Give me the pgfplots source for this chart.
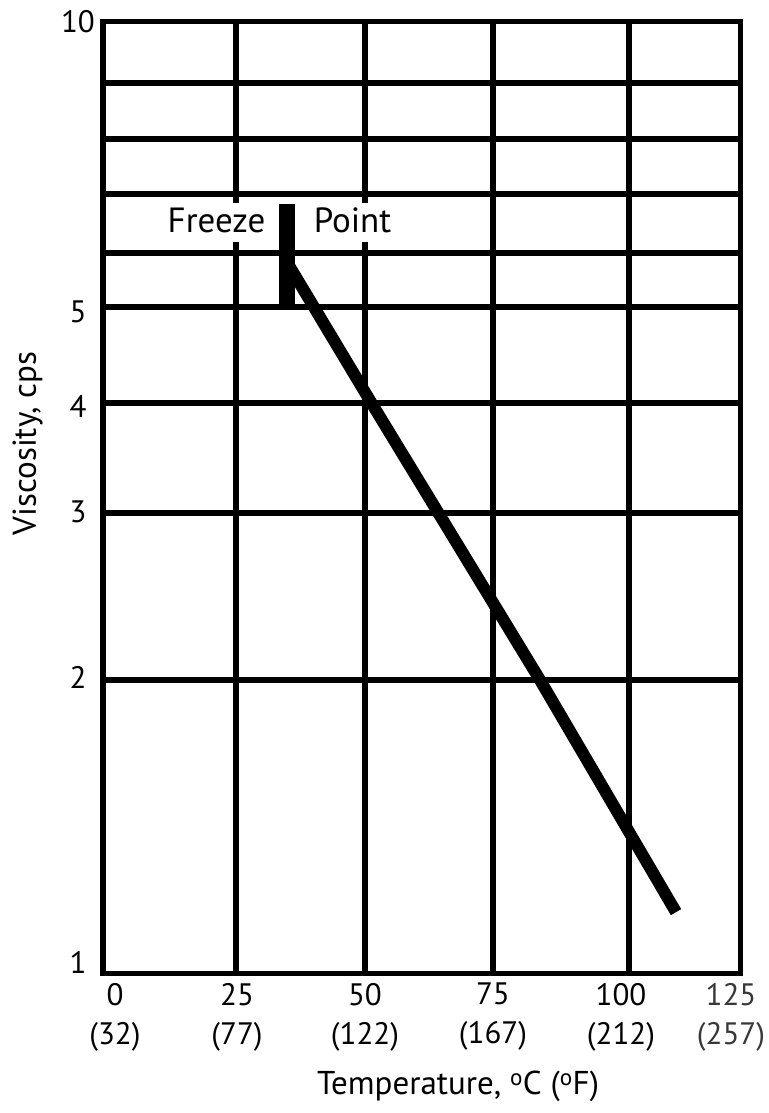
\documentclass[border=0pt]{standalone}
\usepackage{fontspec}
\setmainfont{PT Sans}
\usepackage{pgfplots}
\pgfplotsset{compat=1.18}
\begin{document}
\begin{tikzpicture}
\path[use as bounding box] (0,0) rectangle (769bp,1113bp);
\begin{axis}[
  at={(103bp,139.5bp)}, anchor=south west,
  scale only axis, width=637.5bp, height=952bp,
  xmin=0, xmax=121.2, ymode=log, ymin=1, ymax=10,
  axis line style={line width=5.5bp, line join=miter},
  major tick length=0pt, minor tick length=0pt,
  yminorticks=false, xminorticks=false,
  /pgf/number format/assume math mode=true,
  xtick={2.28,25.48,49.81,74.14,98.48,119.39},
  xticklabels={0\\(32), 25\\(77), 50\\(122), 75\\(167), 100\\(212), \textcolor{black!78}{125}\\\textcolor{black!78}{(257)}},
  xticklabel style={anchor=north, inner sep=0pt, yshift=-9.5bp, align=center, font=\fontsize{31bp}{39bp}\selectfont},
  ytick={1.026,2.044,3.053,3.946,4.96,10},
  yticklabels={1,2,3,4,5,10},
  yticklabel style={anchor=center, inner sep=0pt, xshift=-25bp, font=\fontsize{31bp}{39bp}\selectfont},
  extra x ticks={25.29,49.81,74.14,100},
  extra x tick labels={},
  extra x tick style={grid=major},
  extra y ticks={2.034,3.045,3.974,5.012,5.713,6.59,7.526,8.617},
  extra y tick labels={},
  extra y tick style={grid=major},
  major grid style={line width=5.5bp, black},
  xlabel={Temperature, \textsuperscript{o}C (\textsuperscript{o}F)},
  xlabel style={at={(axis description cs:0.5569,-0.1276)}, anchor=base, inner sep=0pt, font=\fontsize{33bp}{40bp}\selectfont},
  ylabel={Viscosity, cps},
  ylabel style={at={(axis description cs:-0.1051,0.5567)}, anchor=base, inner sep=0pt, font=\fontsize{33bp}{40bp}\selectfont},
]
\addplot[black, line width=16bp, line cap=butt] coordinates {(34.9,5.0) (34.9,6.43)};
\addplot[black, line width=12bp, line cap=butt, line join=round] coordinates {(34.92,5.594) (51.05,3.974) (83.08,2.034) (108.94,1.160)};
\node[fill=white, inner xsep=3bp, inner ysep=4bp, text height=25bp, text depth=6bp, anchor=base, font=\fontsize{35bp}{40bp}\selectfont] at (axis cs:21.58,6.009) {Freeze};
\node[fill=white, inner xsep=3bp, inner ysep=4bp, text height=25bp, text depth=6bp, anchor=base, font=\fontsize{35bp}{40bp}\selectfont] at (axis cs:47.43,6.009) {Point};
\end{axis}
\end{tikzpicture}
\end{document}
